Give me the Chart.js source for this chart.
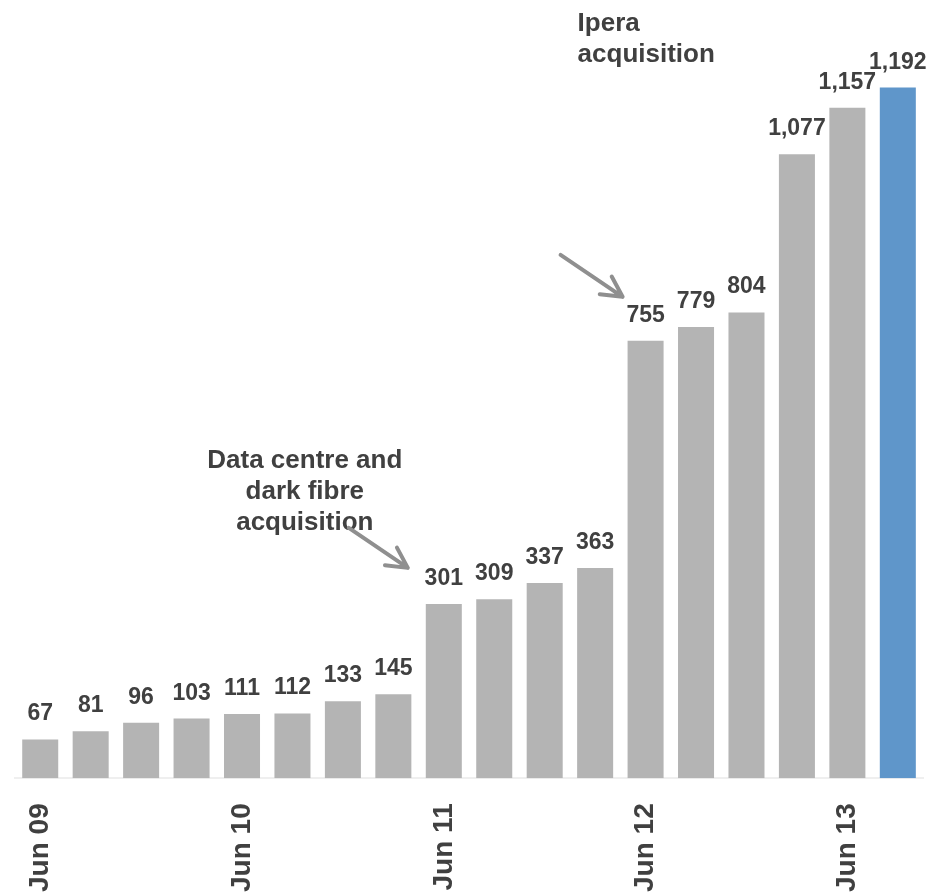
<!DOCTYPE html>
<html>
<head>
<meta charset="utf-8">
<script src="https://cdn.jsdelivr.net/npm/chart.js@4/dist/chart.umd.min.js"></script>
<style>
  html, body { margin: 0; padding: 0; background: #ffffff; overflow: hidden; }
  #wrap { width: 950px; height: 892px; overflow: hidden; }
</style>
</head>
<body>
<div id="wrap"><canvas id="c" width="957" height="917"></canvas></div>
<script>
// Quarterly periods, June 2009 to September 2013
const categories = ['Jun 09','Sep 09','Dec 09','Mar 10','Jun 10','Sep 10','Dec 10','Mar 11',
                    'Jun 11','Sep 11','Dec 11','Mar 12','Jun 12','Sep 12','Dec 12','Mar 13',
                    'Jun 13','Sep 13'];
const values = [67, 81, 96, 103, 111, 112, 133, 145, 301, 309, 337, 363, 755, 779, 804, 1077, 1157, 1192];
// Only the June quarters carry an axis label
const tickLabels = ['Jun 09','','','','Jun 10','','','','Jun 11','','','','Jun 12','','','','Jun 13',''];
const highlightIndex = 17;

const GREY = '#b4b4b4';
const BLUE = '#5f96ca';
const TEXT = '#404040';
const FONT = '"Liberation Sans", Arial, Helvetica, sans-serif';

// Callout notes anchored to a bar: dx/dy offsets from the bar centre / bar top
const notes = [
  { index: 8, lines: ['Data centre and', 'dark fibre', 'acquisition'], align: 'center',
    dx: -139, dy: -136, arrow: { fromDx: -95, fromDy: -76, toDx: -36, toDy: -36 } },
  { index: 12, lines: ['Ipera', 'acquisition'], align: 'left',
    dx: -68, dy: -310, arrow: { fromDx: -85, fromDy: -86, toDx: -23, toDy: -44 } }
];

const valueLabels = {
  id: 'valueLabels',
  afterDatasetsDraw(chart) {
    const ctx = chart.ctx;
    const meta = chart.getDatasetMeta(0);
    ctx.save();
    ctx.font = 'bold 23px ' + FONT;
    ctx.fillStyle = TEXT;
    ctx.textAlign = 'center';
    ctx.textBaseline = 'alphabetic';
    meta.data.forEach((bar, i) => {
      ctx.fillText(values[i].toLocaleString('en-US'), bar.x, bar.y - 19);
    });
    ctx.restore();
  }
};

function drawArrow(ctx, x1, y1, x2, y2) {
  const ang = Math.atan2(y2 - y1, x2 - x1);
  const head = 23, spread = Math.PI / 6.5;
  ctx.beginPath();
  ctx.moveTo(x1, y1);
  ctx.lineTo(x2, y2);
  ctx.moveTo(x2 - head * Math.cos(ang - spread), y2 - head * Math.sin(ang - spread));
  ctx.lineTo(x2, y2);
  ctx.lineTo(x2 - head * Math.cos(ang + spread), y2 - head * Math.sin(ang + spread));
  ctx.stroke();
}

const callouts = {
  id: 'callouts',
  afterDatasetsDraw(chart) {
    const ctx = chart.ctx;
    const xs = chart.scales.x, ys = chart.scales.y;
    ctx.save();
    notes.forEach(n => {
      const bx = xs.getPixelForValue(n.index);
      const by = ys.getPixelForValue(values[n.index]);
      ctx.font = 'bold 26px ' + FONT;
      ctx.fillStyle = TEXT;
      ctx.textAlign = n.align;
      ctx.textBaseline = 'alphabetic';
      n.lines.forEach((t, k) => ctx.fillText(t, bx + n.dx, by + n.dy + k * 31));
      ctx.strokeStyle = '#8f8f8f';
      ctx.lineWidth = 4;
      ctx.lineCap = 'round';
      ctx.lineJoin = 'round';
      const a = n.arrow;
      drawArrow(ctx, bx + a.fromDx, by + a.fromDy, bx + a.toDx, by + a.toDy);
    });
    ctx.restore();
  }
};

new Chart(document.getElementById('c'), {
  type: 'bar',
  data: {
    labels: categories,
    datasets: [{
      data: values,
      backgroundColor: values.map((v, i) => i === highlightIndex ? BLUE : GREY),
      borderWidth: 0,
      barPercentage: 0.714,
      categoryPercentage: 1.0
    }]
  },
  options: {
    responsive: false,
    animation: false,
    devicePixelRatio: 1,
    layout: { padding: { left: 15, right: 21, top: 25, bottom: 0 } },
    plugins: { legend: { display: false }, tooltip: { enabled: false } },
    scales: {
      x: {
        grid: { display: false, drawTicks: false },
        border: { display: true, color: '#efefef', width: 2 },
        ticks: {
          autoSkip: false,
          minRotation: 90,
          maxRotation: 90,
          padding: 25,
          color: TEXT,
          font: { family: FONT, size: 28, weight: 'bold' },
          callback: (v, i) => tickLabels[i]
        }
      },
      y: {
        display: false,
        min: 0,
        max: 1300
      }
    }
  },
  plugins: [valueLabels, callouts]
});
</script>
</body>
</html>
